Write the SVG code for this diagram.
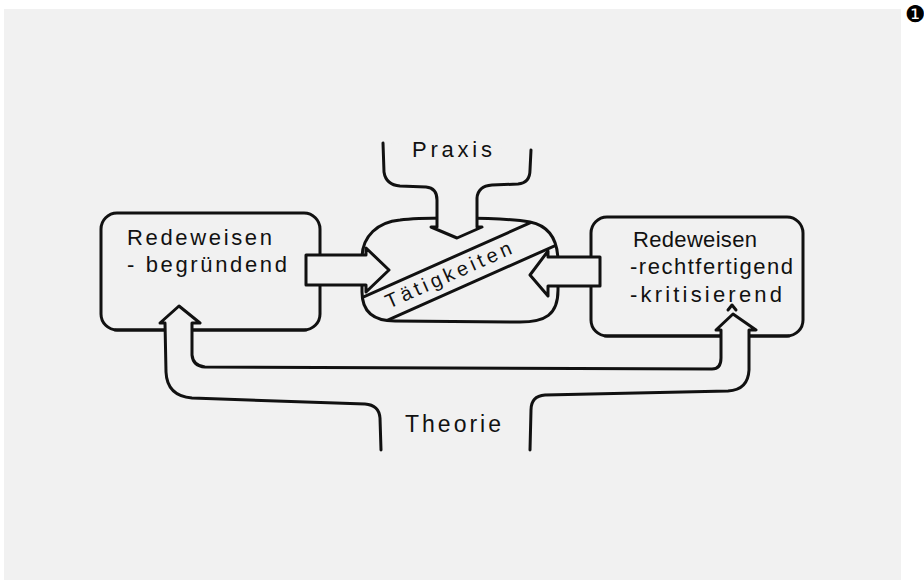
<svg xmlns="http://www.w3.org/2000/svg" width="924" height="580" viewBox="0 0 924 580">
<style>
.ln{fill:none;stroke:#111;stroke-width:3;stroke-linejoin:round;stroke-linecap:round}
.ar{fill:#f1f1f1;stroke:#111;stroke-width:3;stroke-linejoin:round;stroke-linecap:round}
.tx{font-family:"Liberation Sans","DejaVu Sans",sans-serif;font-size:22px;fill:#111}
</style>
<defs>
<clipPath id="blobClip"><path d="M400,220 C420,217 500,217 530,222 C550,226 558,240 558,262 L558,290 C558,315 545,322 520,322 L395,321 C372,321 362,310 362,292 L362,258 C362,236 378,222 400,220 Z"/></clipPath>
</defs>
<rect x="4" y="9" width="897" height="571" fill="#f1f1f1"/>
<text x="915" y="22" text-anchor="middle" font-family="DejaVu Sans,sans-serif" font-size="23" fill="#000">❶</text>

<g id="node-left">
<rect class="ln" x="101" y="213" width="219" height="117" rx="16"/>
<path class="ln" d="M115,330 L306,330" stroke-width="5"/>
<text class="tx" x="127" y="245" textLength="145" lengthAdjust="spacing">Redeweisen</text>
<text class="tx" x="127" y="272" textLength="160" lengthAdjust="spacing">- begründend</text>
</g>

<g id="node-right">
<rect class="ln" x="591" y="217" width="212" height="119" rx="16"/>
<path class="ln" d="M605,336 L789,336" stroke-width="5"/>
<text class="tx" x="633" y="247" textLength="124" lengthAdjust="spacing">Redeweisen</text>
<text class="tx" x="630" y="274" textLength="163" lengthAdjust="spacing">-rechtfertigend</text>
<text class="tx" x="630" y="302" textLength="152" lengthAdjust="spacing">-kritisierend</text>
</g>

<g id="node-center">
<path class="ln" d="M400,220 C420,217 500,217 530,222 C550,226 558,240 558,262 L558,290 C558,315 545,322 520,322 L395,321 C372,321 362,310 362,292 L362,258 C362,236 378,222 400,220 Z"/>
<g clip-path="url(#blobClip)">
<g transform="translate(450,276) rotate(-24)">
<line class="ln" x1="-160" y1="-16" x2="160" y2="-16"/>
<line class="ln" x1="-160" y1="15" x2="160" y2="15"/>
</g>
</g>
<g transform="translate(450,276) rotate(-24)">
<text class="tx" x="-1" y="5" text-anchor="middle" textLength="136" lengthAdjust="spacing" style="font-size:20px">Tätigkeiten</text>
</g>
</g>

<g id="node-praxis">
<path class="ar" d="M383,143 L384,172 Q386,185 400,186 L426,187 Q437,188 437,200 L437,227 L431,227 L457,238 L482,227 L477,227 L477,198 Q478,186 492,185 L518,184 Q530,183 530,170 L531,150"/>
<text class="tx" x="412" y="157" textLength="80" lengthAdjust="spacing">Praxis</text>
</g>

<g id="node-theorie">
<path class="ar" d="M381,450 L380,418 Q379,405 365,404 L192,398 Q167,396 166,372 L165,323 L160,323 L179,306 L200,323 L192,323 L192,355 Q193,366 205,367 L712,369 Q721,369 721,358 L721,330 L716,330 L733,314 L756,330 L749,330 L749,370 Q748,390 728,391 L545,395 Q531,396 531,410 L530,450"/>
<path class="ln" d="M728,310 L732,305 L736,310" stroke-width="2"/>
<text class="tx" x="405" y="432" textLength="96" lengthAdjust="spacing" style="font-size:23px">Theorie</text>
</g>

<g id="connectors">
<path class="ar" d="M306,255 L366,255 L366,248 L389,270 L366,292 L366,285 L306,285 Z"/>
<path class="ar" d="M600,257 L548,257 L548,251 L530,275 L548,296 L548,286 L600,286 Z"/>
</g>
</svg>
